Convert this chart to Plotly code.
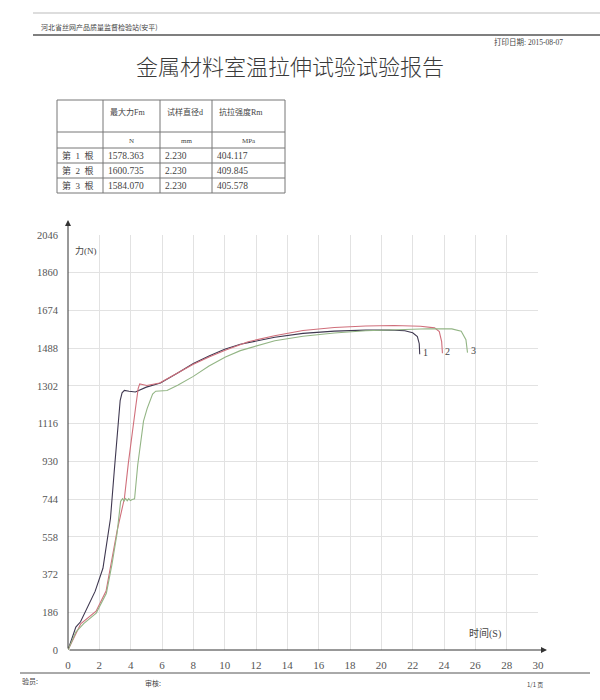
import plotly.graph_objects as go

# ---------------- data ----------------
t1 = [0, 0.5, 0.8, 1.44, 1.73, 2.23, 2.71, 2.95, 3.2, 3.33, 3.45, 3.6, 3.9, 4.3, 5.0, 5.9, 7.0,
      8.0, 9.0, 10.0, 11.0, 12.1, 13.2, 15.0, 17.0, 19.0, 20.5, 21.5, 22.0, 22.3, 22.42, 22.45]
f1 = [0, 113, 139, 239, 289, 403, 648, 880, 1120, 1230, 1268, 1280, 1276, 1272, 1296, 1316, 1366,
      1412, 1450, 1483, 1507, 1525, 1542, 1561, 1572, 1577, 1578, 1574, 1564, 1545, 1510, 1458]

t2 = [0, 0.81, 1.79, 2.43, 3.13, 3.6, 3.85, 4.1, 4.33, 4.48, 4.58, 4.75, 5.03, 5.85, 7.0, 7.97,
      9.0, 10.03, 11.5, 13.18, 15.0, 17.0, 19.0, 20.8, 22.5, 23.4, 23.7, 23.85, 23.9]
f2 = [0, 129, 191, 291, 586, 748, 920, 1080, 1204, 1290, 1312, 1309, 1304, 1316, 1365, 1407,
      1445, 1478, 1520, 1549, 1575, 1590, 1597, 1600, 1596, 1588, 1570, 1520, 1463]

t3 = [0, 0.5, 1.0, 1.8, 2.45, 2.8, 3.13, 3.36, 3.48, 3.58, 3.68, 3.78, 3.88, 3.98, 4.1, 4.25,
      4.45, 4.82, 5.05, 5.21, 5.4, 5.6, 6.32, 7.0, 8.0, 9.0, 10.05, 11.0, 12.13, 13.2, 15.0,
      17.0, 19.0, 21.0, 23.0, 24.5, 25.1, 25.4, 25.5]
f3 = [0, 88, 130, 182, 280, 420, 575, 733, 746, 735, 747, 736, 746, 737, 742, 745,
      912, 1128, 1190, 1222, 1262, 1276, 1279, 1305, 1349, 1400, 1445, 1476, 1501, 1525, 1547,
      1563, 1574, 1580, 1584, 1583, 1572, 1530, 1466]

curve_labels = ["1", "2", "3"]

x_ticks = list(range(0, 31, 2))
y_ticks = [0, 186, 372, 558, 744, 930, 1116, 1302, 1488, 1674, 1860, 2046]

table_header = ["", "最大力Fm", "试样直径d", "抗拉强度Rm"]
table_units = ["", "N", "mm", "MPa"]
table_rows = [
    ["第 1 根", "1578.363", "2.230", "404.117"],
    ["第 2 根", "1600.735", "2.230", "409.845"],
    ["第 3 根", "1584.070", "2.230", "405.578"],
]

title_text = "金属材料室温拉伸试验试验报告"
org_text = "河北省丝网产品质量监督检验站(安平)"
date_text = "打印日期: 2015-08-07"

# ---------------- layout helpers (pixel -> paper) ----------------
W, H = 600, 700
PL, PR, PT, PB = 68, 538, 235, 650


def px(x):
    return (x - PL) / (PR - PL)


def py(y):
    return (PB - y) / (PB - PT)


SERIF = "Liberation Serif, Noto Sans CJK SC, serif"
CJK = "Noto Sans CJK SC, sans-serif"
TXT = "#444"

fig = go.Figure()
colors = ["#3f3850", "#d06f7b", "#93b585"]
for t, f, c in zip([t1, t2, t3], [f1, f2, f3], colors):
    fig.add_trace(go.Scatter(x=t, y=f, mode="lines", line=dict(color=c, width=1.1),
                             hoverinfo="skip", showlegend=False))

ann = []
shapes = []

# curve end labels
for t, f, lab in zip([t1, t2, t3], [f1, f2, f3], curve_labels):
    ann.append(dict(x=t[-1], y=f[-1], xref="x", yref="y", text=lab, showarrow=False,
                    xanchor="left", yanchor="middle", xshift=1, yshift=2,
                    font=dict(family=SERIF, size=10, color=TXT)))

# axis labels
ann.append(dict(x=0.3, y=1968, xref="x", yref="y", text="力(N)", showarrow=False,
                xanchor="left", yanchor="middle", font=dict(family=SERIF, size=9, color=TXT)))
ann.append(dict(x=26.6, y=80, xref="x", yref="y", text="时间(S)", showarrow=False,
                xanchor="center", yanchor="middle", font=dict(family=SERIF, size=10, color=TXT)))

# axis arrows
ann.append(dict(x=px(547), y=0, xref="paper", yref="paper", ax=-(547 - PL), ay=0,
                axref="pixel", ayref="pixel", text="", showarrow=True, arrowhead=2,
                arrowsize=1.2, arrowwidth=1, arrowcolor="#333", standoff=0))
ann.append(dict(x=0, y=py(220), xref="paper", yref="paper", ax=0, ay=(PB - 220),
                axref="pixel", ayref="pixel", text="", showarrow=True, arrowhead=2,
                arrowsize=1.2, arrowwidth=1, arrowcolor="#333", standoff=0))

# header
ann.append(dict(x=px(39), y=py(27), xref="paper", yref="paper", text=org_text, showarrow=False,
                xanchor="left", yanchor="middle", font=dict(family=CJK, size=7, color=TXT)))
ann.append(dict(x=px(565), y=py(42), xref="paper", yref="paper", text=date_text, showarrow=False,
                xanchor="right", yanchor="middle", font=dict(family=SERIF, size=7.5, color=TXT)))
ann.append(dict(x=px(290), y=py(65), xref="paper", yref="paper", text=title_text, showarrow=False,
                xanchor="center", yanchor="middle",
                font=dict(family=CJK, size=22, color="#3a3a3a", weight=300)))
shapes.append(dict(type="line", xref="paper", yref="paper", x0=px(33), x1=px(600),
                   y0=py(13), y1=py(13), line=dict(color="#bbb", width=1)))
shapes.append(dict(type="line", xref="paper", yref="paper", x0=px(33), x1=px(600),
                   y0=py(35), y1=py(35), line=dict(color="#555", width=1.3)))

# table
col_x = [57, 103, 160, 212, 285]
row_y = [100, 132, 148, 163, 178, 193]
for x in col_x:
    shapes.append(dict(type="line", xref="paper", yref="paper", x0=px(x), x1=px(x),
                       y0=py(row_y[0]), y1=py(row_y[-1]), line=dict(color="#777", width=1)))
for y in row_y:
    shapes.append(dict(type="line", xref="paper", yref="paper", x0=px(col_x[0]), x1=px(col_x[-1]),
                       y0=py(y), y1=py(y), line=dict(color="#777", width=1)))
for j, h in enumerate(table_header):
    if h:
        ann.append(dict(x=px(col_x[j] + 5), y=py(112), xref="paper", yref="paper", text=h,
                        showarrow=False, xanchor="left", yanchor="middle",
                        font=dict(family=SERIF, size=8, color=TXT)))
for j, u in enumerate(table_units):
    if u:
        ann.append(dict(x=px((col_x[j] + col_x[j + 1]) / 2), y=py(140.5), xref="paper", yref="paper",
                        text=u, showarrow=False, xanchor="center", yanchor="middle",
                        font=dict(family=SERIF, size=7, color=TXT)))
for i, row in enumerate(table_rows):
    yc = (row_y[i + 2] + row_y[i + 3]) / 2
    for j, v in enumerate(row):
        shown = v.replace(" ", "\u00a0\u00a0") if j == 0 else v
        ann.append(dict(x=px(col_x[j] + 3), y=py(yc), xref="paper", yref="paper", text=shown,
                        showarrow=False, xanchor="left", yanchor="middle",
                        font=dict(family=SERIF, size=9.5 if j else 9, color=TXT)))

# footer
shapes.append(dict(type="line", xref="paper", yref="paper", x0=px(20), x1=px(590),
                   y0=py(673), y1=py(673), line=dict(color="#555", width=1)))
ann.append(dict(x=px(20), y=py(681), xref="paper", yref="paper", text="验员:", showarrow=False,
                xanchor="left", yanchor="middle", font=dict(family=CJK, size=7, color=TXT)))
ann.append(dict(x=px(143), y=py(683), xref="paper", yref="paper", text="审核:", showarrow=False,
                xanchor="left", yanchor="middle", font=dict(family=CJK, size=7, color=TXT)))
ann.append(dict(x=px(545), y=py(684), xref="paper", yref="paper", text="1/1 页", showarrow=False,
                xanchor="right", yanchor="middle", font=dict(family=CJK, size=6, color=TXT)))

fig.update_layout(
    width=W, height=H,
    margin=dict(l=PL, r=W - PR, t=PT, b=H - PB, pad=0),
    paper_bgcolor="white", plot_bgcolor="white",
    showlegend=False,
    xaxis=dict(range=[0, 30], tickvals=x_ticks, ticktext=[str(v) for v in x_ticks],
               showgrid=True, gridcolor="#e2e2e2", gridwidth=1, zeroline=False,
               showline=False, ticks="outside", ticklen=5, tickcolor="rgba(0,0,0,0)",
               tickfont=dict(family=SERIF, size=11, color="#555"), fixedrange=True),
    yaxis=dict(range=[0, 2046], tickvals=y_ticks, ticktext=[str(v) for v in y_ticks],
               showgrid=True, gridcolor="#e2e2e2", gridwidth=1, zeroline=False,
               showline=False, ticks="outside", ticklen=7, tickcolor="rgba(0,0,0,0)",
               tickfont=dict(family=SERIF, size=10.5, color="#555"), fixedrange=True),
    annotations=ann,
    shapes=shapes,
)

fig.write_html("out.html", post_script="document.body.style.margin='0';",
               config={"displayModeBar": False})
